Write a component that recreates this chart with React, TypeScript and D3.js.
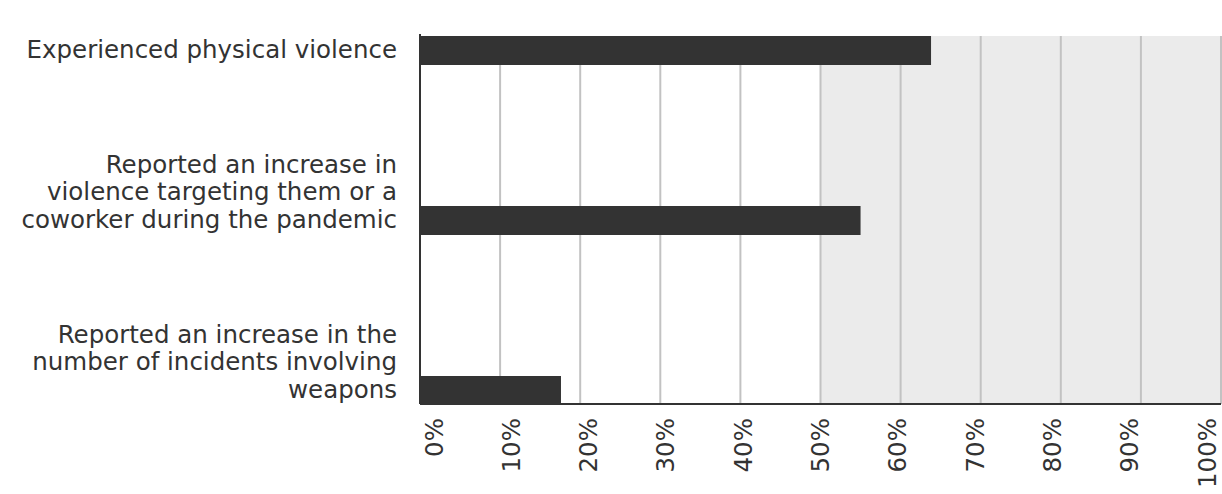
import React from "react";
import * as d3 from "d3";

const categories = [
  "Experienced physical violence",
  "Reported an increase in violence targeting them or a coworker during the pandemic",
  "Reported an increase in the number of incidents involving weapons",
];
const labelLines = [
  ["Experienced physical violence"],
  ["Reported an increase in", "violence targeting them or a", "coworker during the pandemic"],
  ["Reported an increase in the", "number of incidents involving", "weapons"],
];
const values = [63.8, 55, 17.6];
const ticks = [0, 10, 20, 30, 40, 50, 60, 70, 80, 90, 100];
const bandRange = [50, 100];

const W = 1222;
const H = 494;
const FONT = "'DejaVu Sans', sans-serif";

export default function App() {
  const x = d3.scaleLinear().domain([0, 100]).range([420, 1221]);
  const xLabel = d3.scaleLinear().domain([0, 100]).range([434, 1207]);
  const y = d3.scalePoint<string>().domain(categories).range([36, 376]);
  const barH = 29;
  const plotTop = 36;
  const plotBottom = 404;
  const lineH = 27.5;

  return (
    <div style={{ position: "absolute", left: 0, top: 0 }}>
      <svg width={W} height={H} style={{ display: "block" }}>
        <rect x={0} y={0} width={W} height={H} fill="#fff" />
        <rect
          x={x(bandRange[0])}
          y={plotTop}
          width={x(bandRange[1]) - x(bandRange[0])}
          height={plotBottom - plotTop}
          fill="#ebebeb"
        />
        {ticks.slice(1).map((t) => (
          <line
            key={t}
            x1={x(t)}
            x2={x(t)}
            y1={plotTop}
            y2={plotBottom}
            stroke="#c2c2c2"
            strokeWidth={2}
          />
        ))}
        {categories.map((c, i) => (
          <rect
            key={c}
            x={x(0)}
            y={y(c)!}
            width={x(values[i]) - x(0)}
            height={barH}
            fill="#333333"
          />
        ))}
        <line x1={x(0)} x2={x(0)} y1={plotTop - 2} y2={plotBottom} stroke="#333" strokeWidth={2} />
        <line x1={x(0)} x2={x(100)} y1={plotBottom} y2={plotBottom} stroke="#333" strokeWidth={2} />
        {categories.map((c, i) => {
          const lines = labelLines[i];
          const lastBase = y(c)! + barH / 2 + 7;
          return (
            <text
              key={c}
              textAnchor="end"
              fontFamily={FONT}
              fontSize={24.5}
              fill="#333"
            >
              {lines.map((l, j) => (
                <tspan key={j} x={397} y={lastBase - (lines.length - 1 - j) * lineH}>
                  {l}
                </tspan>
              ))}
            </text>
          );
        })}
        {ticks.map((t) => (
          <text
            key={t}
            transform={`translate(${xLabel(t)},${418}) rotate(-90)`}
            textAnchor="end"
            dy="0.35em"
            fontFamily={FONT}
            fontSize={24.5}
            fill="#333"
          >
            {t}%
          </text>
        ))}
      </svg>
    </div>
  );
}
